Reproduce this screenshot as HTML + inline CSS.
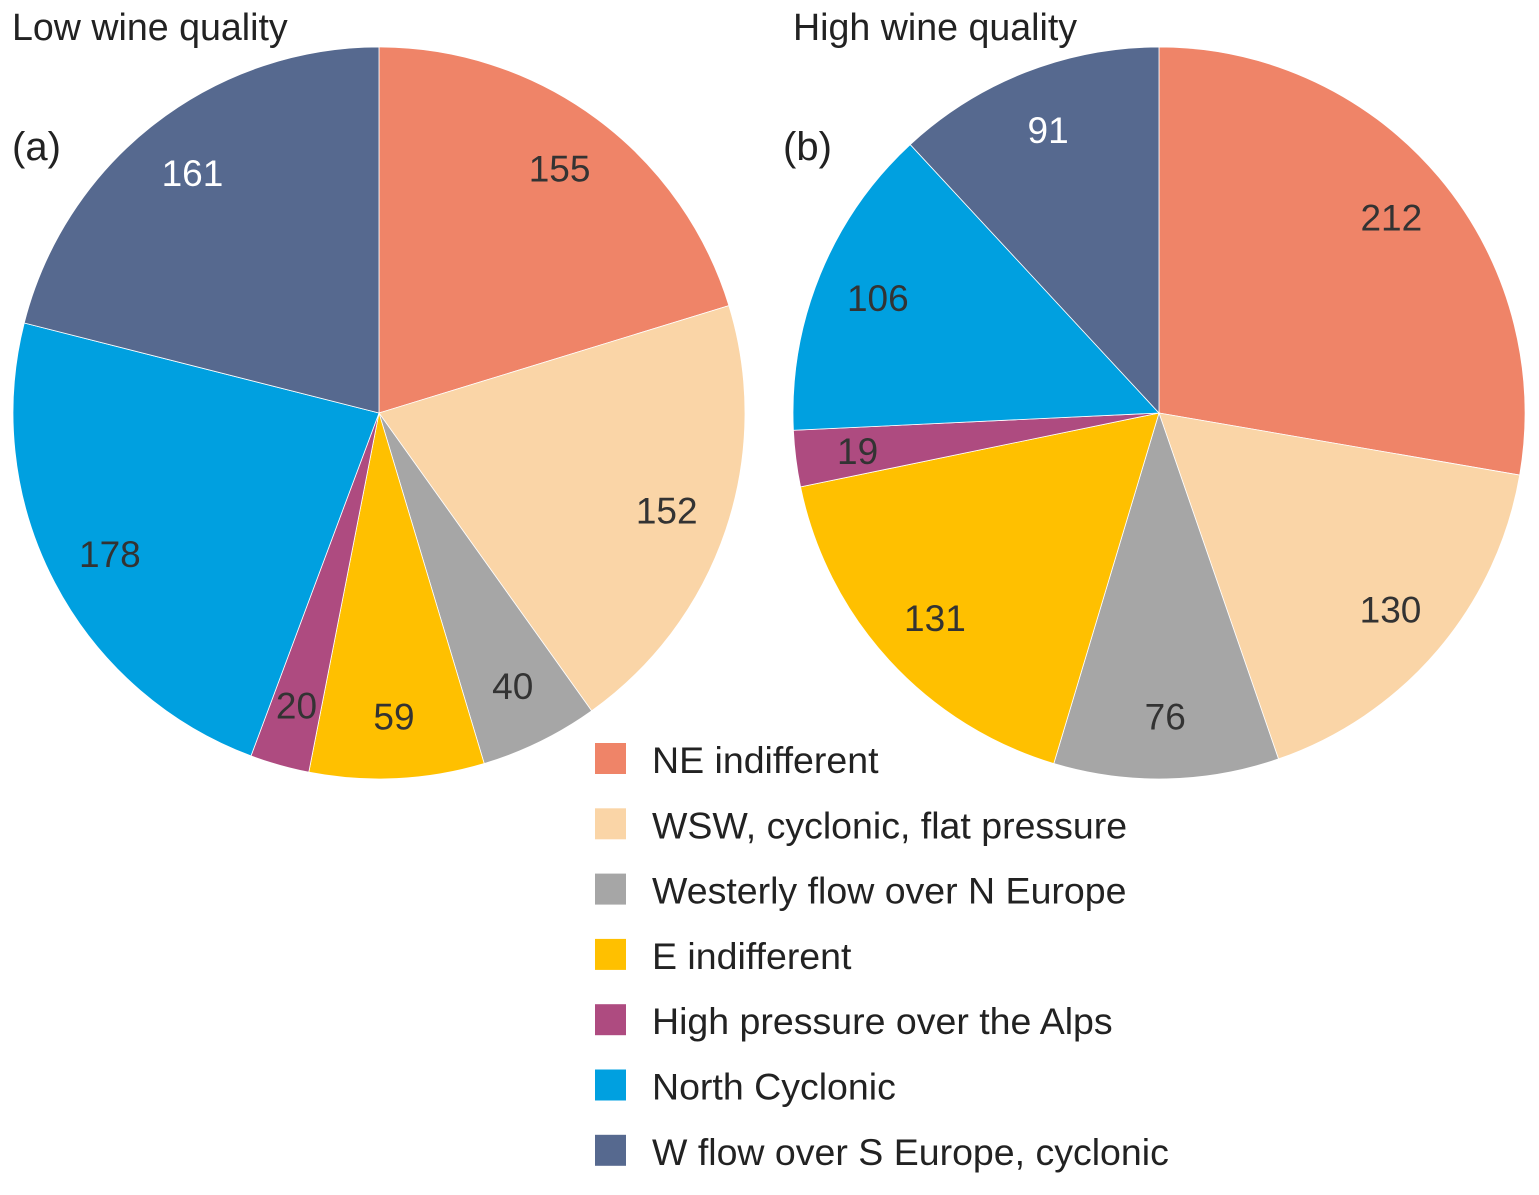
<!DOCTYPE html>
<html><head><meta charset="utf-8"><style>
body{margin:0;background:#fff;}
svg text{font-family:"Liberation Sans",Arial,sans-serif;}
</style></head><body>
<svg width="1539" height="1190" viewBox="0 0 1539 1190">
<text x="12" y="40" font-size="37.6" fill="#222">Low wine quality</text>
<text x="793" y="40" font-size="37.6" fill="#222">High wine quality</text>
<g id="pieA"></g>
<g id="pieB"></g>
<text x="12" y="160" font-size="40" fill="#222">(a)</text>
<text x="783" y="160" font-size="40" fill="#222">(b)</text>
<g id="legend"></g>
</svg>
<script>
const categories=["NE indifferent","WSW, cyclonic, flat pressure","Westerly flow over N Europe","E indifferent","High pressure over the Alps","North Cyclonic","W flow over S Europe, cyclonic"];
const lowValues=[155,152,40,59,20,178,161];
const highValues=[212,130,76,131,19,106,91];
const colors=["#EF8468","#FAD5A7","#A6A6A6","#FFC000","#AE4B80","#00A0E0","#56698F"];
const lowLabelColors=["#333","#333","#333","#333","#333","#333","#fff"];
const highLabelColors=["#333","#333","#333","#333","#333","#333","#fff"];
const NS="http://www.w3.org/2000/svg";
function drawPie(g,vals,cx,cy,r,lc,prefix){
  const tot=vals.reduce((a,b)=>a+b,0);let a0=0;
  vals.forEach((v,i)=>{
    const a1=a0+v/tot*2*Math.PI;
    const x0=cx+r*Math.sin(a0),y0=cy-r*Math.cos(a0),x1=cx+r*Math.sin(a1),y1=cy-r*Math.cos(a1);
    const p=document.createElementNS(NS,"path");
    p.setAttribute("d",`M${cx},${cy}L${x0},${y0}A${r},${r} 0 ${a1-a0>Math.PI?1:0} 1 ${x1},${y1}Z`);
    p.setAttribute("fill",colors[i]);p.setAttribute("stroke","#fff");p.setAttribute("stroke-width","0.8");
    
    
    g.appendChild(p);
    const am=(a0+a1)/2,lr=r*0.83;
    const t=document.createElementNS(NS,"text");
    t.setAttribute("x",cx+lr*Math.sin(am));t.setAttribute("y",cy-lr*Math.cos(am)+13);
    t.setAttribute("text-anchor","middle");t.setAttribute("font-size","37");t.setAttribute("fill",lc[i]);
    t.textContent=v;
    
    
    g.appendChild(t);
    a0=a1;
  });
}
drawPie(document.getElementById("pieA"),lowValues,379,413,366,lowLabelColors,"low");
drawPie(document.getElementById("pieB"),highValues,1159,413,366,highLabelColors,"high");
const lg=document.getElementById("legend");
categories.forEach((c,i)=>{
  const y=743+i*65.3;
  const r=document.createElementNS(NS,"rect");
  r.setAttribute("x",595);r.setAttribute("y",y);r.setAttribute("width",31);r.setAttribute("height",31);r.setAttribute("fill",colors[i]);
  
  
  lg.appendChild(r);
  const t=document.createElementNS(NS,"text");
  t.setAttribute("x",652);t.setAttribute("y",y+30);t.setAttribute("font-size","37.5");t.setAttribute("fill","#222");
  t.textContent=c;
  
  
  lg.appendChild(t);
});
</script>
</body></html>
